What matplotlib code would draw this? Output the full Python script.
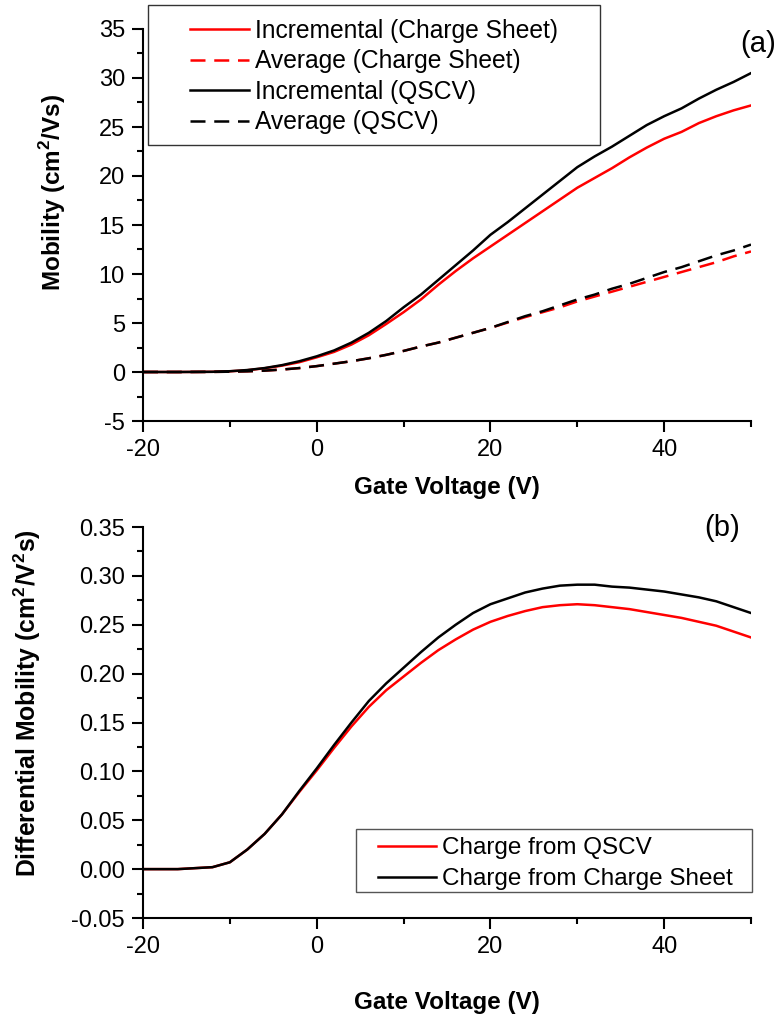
import matplotlib
matplotlib.use("Agg")
import matplotlib.pyplot as plt
from matplotlib.patches import Rectangle
from matplotlib.ticker import MultipleLocator, FormatStrFormatter

plt.rcParams['font.family'] = ['Liberation Sans', 'DejaVu Sans']
plt.rcParams['axes.unicode_minus'] = False
plt.rcParams['mathtext.fontset'] = 'custom'
plt.rcParams['mathtext.rm'] = 'Liberation Sans'
plt.rcParams['mathtext.bf'] = 'Liberation Sans:bold'

# ---- data ----
vg = [-20, -16, -12, -10, -8, -6, -4, -2, 0, 2, 4, 6, 8, 10, 12, 14, 16, 18, 20,
      22, 24, 26, 28, 30, 32, 34, 36, 38, 40, 42, 44, 46, 48, 50]

inc_qscv = [0, 0, 0.02, 0.08, 0.2, 0.4, 0.7, 1.1, 1.6, 2.2, 3.0, 4.0, 5.2, 6.6, 7.9, 9.4,
            10.9, 12.4, 14.0, 15.3, 16.7, 18.1, 19.5, 20.9, 22.0, 23.0, 24.1, 25.2, 26.1,
            26.9, 27.9, 28.8, 29.6, 30.5]
inc_cs = [0, 0, 0.02, 0.07, 0.18, 0.38, 0.65, 1.0, 1.5, 2.05, 2.8, 3.75, 4.9, 6.1, 7.4, 8.9,
          10.3, 11.6, 12.8, 14.0, 15.2, 16.4, 17.6, 18.8, 19.8, 20.8, 21.9, 22.9, 23.8,
          24.5, 25.4, 26.1, 26.7, 27.2]
avg_qscv = [0, 0, 0.01, 0.03, 0.07, 0.14, 0.25, 0.4, 0.6, 0.85, 1.1, 1.4, 1.75, 2.15, 2.6, 3.0,
            3.5, 4.0, 4.5, 5.1, 5.7, 6.2, 6.8, 7.4, 7.9, 8.5, 9.0, 9.6, 10.2, 10.7, 11.3,
            11.9, 12.4, 13.0]
avg_cs = [0, 0, 0.01, 0.03, 0.07, 0.14, 0.25, 0.4, 0.6, 0.85, 1.1, 1.4, 1.75, 2.15, 2.6, 3.0,
          3.5, 4.0, 4.5, 5.05, 5.6, 6.1, 6.6, 7.2, 7.7, 8.2, 8.7, 9.2, 9.7, 10.2, 10.7,
          11.2, 11.8, 12.3]

diff_cs = [0, 0, 0.002, 0.007, 0.02, 0.036, 0.056, 0.08, 0.103, 0.127, 0.150, 0.172, 0.19,
           0.206, 0.222, 0.237, 0.25, 0.262, 0.271, 0.277, 0.283, 0.287, 0.290, 0.291,
           0.291, 0.289, 0.288, 0.286, 0.284, 0.281, 0.278, 0.274, 0.268, 0.262]
diff_qscv = [0, 0, 0.002, 0.007, 0.02, 0.036, 0.056, 0.079, 0.101, 0.124, 0.146, 0.166, 0.183,
             0.197, 0.211, 0.224, 0.235, 0.245, 0.253, 0.259, 0.264, 0.268, 0.270, 0.271,
             0.270, 0.268, 0.266, 0.263, 0.260, 0.257, 0.253, 0.249, 0.243, 0.237]

W, H = 779, 1021
fig = plt.figure(figsize=(W / 100, H / 100), dpi=100)

def fx(px):
    return px / W

def fy(py):
    return 1 - py / H

ax1 = fig.add_axes([fx(143), fy(421), fx(751) - fx(143), fy(29) - fy(421)])
ax2 = fig.add_axes([fx(143), fy(918), fx(751) - fx(143), fy(527) - fy(918)])

RED = '#ff0000'
lw = 1.8
dash = (0, (6, 3.5))
l1, = ax1.plot(vg, inc_cs, color=RED, lw=lw, label='Incremental (Charge Sheet)')
l2, = ax1.plot(vg, avg_cs, color=RED, lw=lw, ls=dash, label='Average (Charge Sheet)')
l3, = ax1.plot(vg, inc_qscv, color='black', lw=lw, label='Incremental (QSCV)')
l4, = ax1.plot(vg, avg_qscv, color='black', lw=lw, ls=dash, label='Average (QSCV)')

m1, = ax2.plot(vg, diff_qscv, color=RED, lw=lw, label='Charge from QSCV')
m2, = ax2.plot(vg, diff_cs, color='black', lw=lw, label='Charge from Charge Sheet')

TFS = 17
LFS = 17.5
for ax in (ax1, ax2):
    ax.set_xlim(-20, 50)
    ax.spines['top'].set_visible(False)
    ax.spines['right'].set_visible(False)
    for s in ('left', 'bottom'):
        ax.spines[s].set_linewidth(1.5)
    ax.xaxis.set_major_locator(MultipleLocator(20))
    ax.xaxis.set_minor_locator(MultipleLocator(10))
    ax.tick_params(which='major', direction='out', length=8, width=1.5, labelsize=TFS, pad=5)
    ax.tick_params(which='minor', direction='out', length=4.5, width=1.5)

ax1.set_ylim(-5, 35)
ax1.yaxis.set_major_locator(MultipleLocator(5))
ax1.yaxis.set_minor_locator(MultipleLocator(2.5))
ax2.set_ylim(-0.05, 0.35)
ax2.yaxis.set_major_locator(MultipleLocator(0.05))
ax2.yaxis.set_minor_locator(MultipleLocator(0.025))
ax2.yaxis.set_major_formatter(FormatStrFormatter('%.2f'))

ax1.set_xlabel('Gate Voltage (V)', fontsize=LFS, fontweight='bold', labelpad=11)
ax1.set_ylabel('Mobility (cm$^\\mathbf{2}$/Vs)', fontsize=LFS, fontweight='bold')
ax1.yaxis.set_label_coords(-0.123, 0.584)
ax2.set_xlabel('Gate Voltage (V)', fontsize=LFS, fontweight='bold', labelpad=24)
ax2.set_ylabel('Differential Mobility (cm$^\\mathbf{2}$/V$^\\mathbf{2}$s)', fontsize=17.8,
               fontweight='bold')
ax2.yaxis.set_label_coords(-0.165, 0.55)

fig.text(fx(758), fy(44), '(a)', fontsize=21, ha='center', va='center')
fig.text(fx(722), fy(528), '(b)', fontsize=21, ha='center', va='center')

# legend frames
fig.patches.append(Rectangle((fx(148), fy(145)), fx(600) - fx(148), fy(5) - fy(145),
                             transform=fig.transFigure, fill=False, ec='#333333', lw=1.0))
fig.patches.append(Rectangle((fx(356), fy(892)), fx(752) - fx(356), fy(829) - fy(892),
                             transform=fig.transFigure, fill=False, ec='#555555', lw=1.0))

leg1 = fig.legend(handles=[l1, l2, l3, l4], loc='upper left',
                  bbox_to_anchor=(fx(190), fy(19)), frameon=False, fontsize=17.7,
                  handlelength=2.4, handletextpad=0.25, borderpad=0, borderaxespad=0,
                  labelspacing=0.26)
leg2 = fig.legend(handles=[m1, m2], loc='upper left',
                  bbox_to_anchor=(fx(378), fy(837)), frameon=False, fontsize=17.5,
                  handlelength=2.4, handletextpad=0.25, borderpad=0, borderaxespad=0,
                  labelspacing=0.38)

fig.savefig('out.png', dpi=100)
